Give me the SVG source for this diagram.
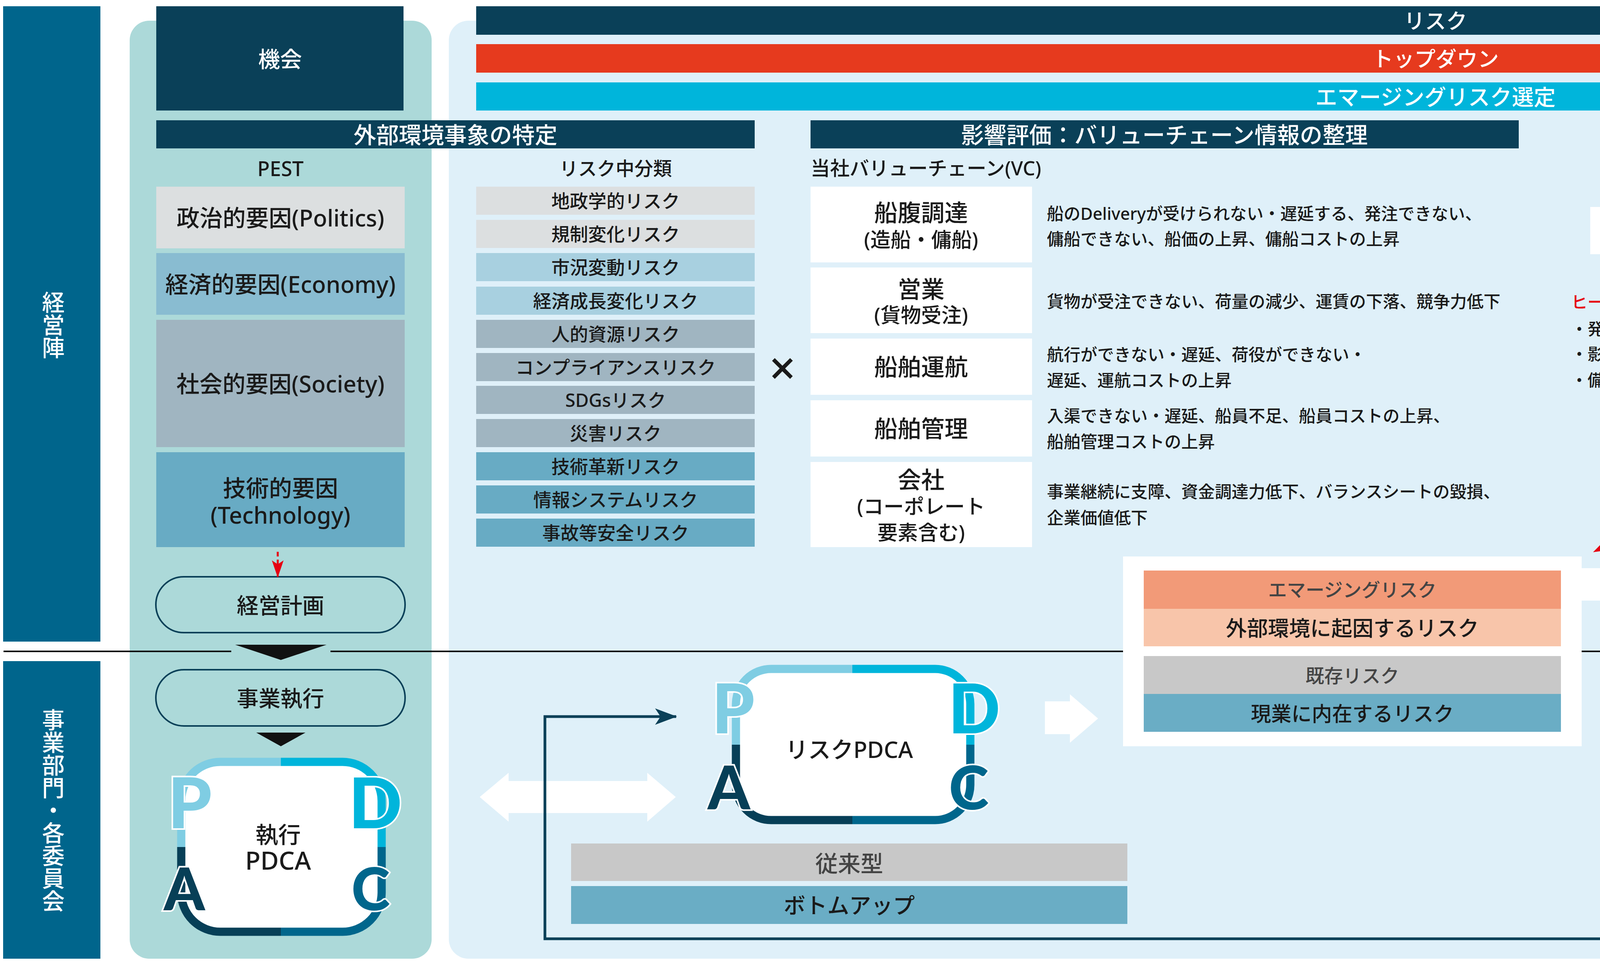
<svg xmlns="http://www.w3.org/2000/svg" width="6410" height="2507" viewBox="0 0 6410 2507">
<defs>
<style>
.jp{font-family:"Noto Sans","Noto Sans CJK JP",sans-serif;font-weight:500;}
.c{text-anchor:middle;dominant-baseline:central;}
.l{dominant-baseline:central;}
.w{fill:#fff;}
.k{fill:#1a1a1a;}
.vt{writing-mode:vertical-rl;text-anchor:middle;}
.pd{font-family:Lato,"Noto Sans",sans-serif;font-weight:900;stroke:#fff;stroke-width:8;paint-order:stroke;text-anchor:middle;}
.fr{fill:none;stroke-width:21;}
.p1{stroke:#7fcde3;}.p2{stroke:#00b5db;}.p3{stroke:#00668c;}.p4{stroke:#073f57;}
.f1{fill:#7fcde3;}.f2{fill:#00b5db;}.f3{fill:#00668c;}.f4{fill:#073f57;}
.dash{stroke:#333;stroke-width:2.5;stroke-dasharray:9 7;fill:none;}
.red{fill:#e60012;}
</style>
<marker id="ra" markerUnits="userSpaceOnUse" viewBox="0 0 44 30" refX="42" refY="15" markerWidth="44" markerHeight="30" orient="auto">
<path d="M0,0 L44,15 L0,30 L10,15 z" fill="#e60012"/>
</marker>
<marker id="na" markerUnits="userSpaceOnUse" viewBox="0 0 56 42" refX="54" refY="21" markerWidth="56" markerHeight="42" orient="auto">
<path d="M0,0 L56,21 L0,42 L14,21 z" fill="#0a4058"/>
</marker>
</defs>
<rect width="6410" height="2507" fill="#fff"/>

<g id="panels">
<rect x="332" y="53" width="773" height="2402" rx="50" fill="#acd9d9"/>
<rect x="1149" y="53" width="5087" height="2402" rx="50" fill="#dff0f9"/>
</g>

<g id="divider">
<line x1="9" y1="1668" x2="6236" y2="1668" stroke="#111" stroke-width="4"/>
<rect x="592" y="1660" width="254" height="16" fill="#acd9d9"/>
</g>

<g id="side-keiei">
<rect x="8" y="16" width="249" height="1627" fill="#00658c"/>
<text class="jp vt w" x="134" y="832" font-size="58">経営陣</text>
</g>
<g id="side-jigyo">
<rect x="8" y="1693" width="249" height="762" fill="#00658c"/>
<text class="jp vt w" x="134" y="2075" font-size="58">事業部門・各委員会</text>
</g>

<g id="kikai">
<rect x="400" y="16" width="633" height="267" fill="#0a4058"/>
<text class="jp c w" x="717" y="150" font-size="56">機会</text>
</g>

<g id="top-bars">
<rect x="1219" y="16" width="4912" height="73" fill="#0a4058"/>
<text class="jp c w" x="3675" y="53" font-size="54">リスク</text>
<rect x="1219" y="113" width="4912" height="73" fill="#e63a1e"/>
<text class="jp c w" x="3675" y="150" font-size="54">トップダウン</text>
<rect x="1219" y="211" width="4912" height="72" fill="#00b5db"/>
<text class="jp c w" x="3675" y="247" font-size="56">エマージングリスク選定</text>
</g>

<g id="headers">
<rect x="400" y="308" width="1532" height="72" fill="#0a4058"/>
<text class="jp c w" x="1166" y="344" font-size="58">外部環境事象の特定</text>
<rect x="2075" y="308" width="1813" height="72" fill="#0a4058"/>
<text class="jp c w" x="2981" y="344" font-size="58">影響評価：バリューチェーン情報の整理</text>
<rect x="4458" y="308" width="1673" height="72" fill="#0a4058"/>
<text class="jp c w" x="5294" y="344" font-size="58">リスク評価：重要リスクの選定</text>
</g>

<g id="pest">
<text class="jp c k" x="718" y="430" font-size="52">PEST</text>
<rect x="400" y="478" width="636" height="158" fill="#dcdfe0"/>
<text class="jp c k" x="718" y="557" font-size="59">政治的要因(Politics)</text>
<rect x="400" y="648" width="636" height="158" fill="#89bcd1"/>
<text class="jp c k" x="718" y="727" font-size="59">経済的要因(Economy)</text>
<rect x="400" y="819" width="636" height="326" fill="#a0b5c1"/>
<text class="jp c k" x="718" y="982" font-size="59">社会的要因(Society)</text>
<rect x="400" y="1158" width="636" height="243" fill="#68abc4"/>
<text class="jp c k" x="718" y="1249" font-size="59">技術的要因</text>
<text class="jp c k" x="718" y="1318" font-size="59">(Technology)</text>
</g>

<g id="risk-categories">
<text class="jp c k" x="1576" y="430" font-size="48">リスク中分類</text>
<rect x="1219" y="478" width="713" height="72" fill="#dcdfe0"/>
<text class="jp c k" x="1576" y="514" font-size="47">地政学的リスク</text>
<rect x="1219" y="563" width="713" height="72" fill="#dcdfe0"/>
<text class="jp c k" x="1576" y="599" font-size="47">規制変化リスク</text>
<rect x="1219" y="648" width="713" height="72" fill="#a8d0e0"/>
<text class="jp c k" x="1576" y="684" font-size="47">市況変動リスク</text>
<rect x="1219" y="734" width="713" height="72" fill="#a8d0e0"/>
<text class="jp c k" x="1576" y="770" font-size="47">経済成長変化リスク</text>
<rect x="1219" y="819" width="713" height="72" fill="#a0b5c1"/>
<text class="jp c k" x="1576" y="855" font-size="47">人的資源リスク</text>
<rect x="1219" y="904" width="713" height="72" fill="#a0b5c1"/>
<text class="jp c k" x="1576" y="940" font-size="47">コンプライアンスリスク</text>
<rect x="1219" y="988" width="713" height="72" fill="#a0b5c1"/>
<text class="jp c k" x="1576" y="1024" font-size="47">SDGsリスク</text>
<rect x="1219" y="1073" width="713" height="72" fill="#a0b5c1"/>
<text class="jp c k" x="1576" y="1109" font-size="47">災害リスク</text>
<rect x="1219" y="1158" width="713" height="72" fill="#68abc4"/>
<text class="jp c k" x="1576" y="1194" font-size="47">技術革新リスク</text>
<rect x="1219" y="1243" width="713" height="72" fill="#68abc4"/>
<text class="jp c k" x="1576" y="1279" font-size="47">情報システムリスク</text>
<rect x="1219" y="1328" width="713" height="72" fill="#68abc4"/>
<text class="jp c k" x="1576" y="1364" font-size="47">事故等安全リスク</text>
</g>

<g id="times">
<text class="jp c k" x="2003" y="939" font-size="120" font-weight="300">×</text>
</g>

<g id="value-chain">
<text class="jp l k" x="2075" y="430" font-size="50">当社バリューチェーン(VC)</text>
<rect x="2075" y="478" width="567" height="194" fill="#fff"/>
<text class="jp c k" x="2358" y="544" font-size="60">船腹調達</text>
<text class="jp c k" x="2358" y="612" font-size="52">(造船・傭船)</text>
<rect x="2075" y="685" width="567" height="168" fill="#fff"/>
<text class="jp c k" x="2358" y="740" font-size="60">営業</text>
<text class="jp c k" x="2358" y="805" font-size="52">(貨物受注)</text>
<rect x="2075" y="867" width="567" height="144" fill="#fff"/>
<text class="jp c k" x="2358" y="939" font-size="60">船舶運航</text>
<rect x="2075" y="1025" width="567" height="144" fill="#fff"/>
<text class="jp c k" x="2358" y="1097" font-size="60">船舶管理</text>
<rect x="2075" y="1183" width="567" height="218" fill="#fff"/>
<text class="jp c k" x="2358" y="1228" font-size="60">会社</text>
<text class="jp c k" x="2358" y="1295" font-size="52">(コーポレート</text>
<text class="jp c k" x="2358" y="1362" font-size="52">要素含む)</text>
<g font-size="43">
<text class="jp l k" x="2680" y="546">船のDeliveryが受けられない・遅延する、発注できない、</text>
<text class="jp l k" x="2680" y="611">傭船できない、船価の上昇、傭船コストの上昇</text>
<text class="jp l k" x="2680" y="771">貨物が受注できない、荷量の減少、運賃の下落、競争力低下</text>
<text class="jp l k" x="2680" y="907">航行ができない・遅延、荷役ができない・</text>
<text class="jp l k" x="2680" y="973">遅延、運航コストの上昇</text>
<text class="jp l k" x="2680" y="1064">入渠できない・遅延、船員不足、船員コストの上昇、</text>
<text class="jp l k" x="2680" y="1130">船舶管理コストの上昇</text>
<text class="jp l k" x="2680" y="1258">事業継続に支障、資金調達力低下、バランスシートの毀損、</text>
<text class="jp l k" x="2680" y="1325">企業価値低下</text>
</g>
</g>

<g id="heatmap-note">
<text class="jp l red" x="4022" y="772" font-size="42" font-weight="700">ヒートマップ化</text>
<text class="jp l k" x="4022" y="841" font-size="42">・発生可能性</text>
<text class="jp l k" x="4022" y="905" font-size="42">・影響度</text>
<text class="jp l k" x="4022" y="972" font-size="42">・備えの程度</text>
</g>

<g id="heatmap-chart">
<line x1="4817" y1="479" x2="4817" y2="1013" stroke="#111" stroke-width="4"/>
<line x1="4815" y1="1011" x2="6093" y2="1011" stroke="#111" stroke-width="4"/>
<path class="dash" d="M4817,657 H5308 M6026,657 H6093 M4817,833 H6093 M5241,478 V1011 M5666,478 V574 M5666,749 V1011"/>
<text class="jp c k" x="4755" y="569" font-size="44" font-weight="400">高</text>
<text class="jp c k" x="4755" y="743" font-size="44" font-weight="400">中</text>
<text class="jp c k" x="4755" y="923" font-size="44" font-weight="400">低</text>
<text class="jp c k" x="5028" y="1055" font-size="44" font-weight="400">高</text>
<text class="jp c k" x="5450" y="1055" font-size="44" font-weight="400">中</text>
<text class="jp c k" x="5879" y="1055" font-size="44" font-weight="400">低</text>
<text class="jp c k" x="5480" y="1133" font-size="46" font-weight="400"><tspan font-weight="700">備えの程度</tspan>(Management Preparedness)</text>
<text class="jp k" transform="translate(4607,784) rotate(90)" text-anchor="middle" font-size="58" textLength="350" lengthAdjust="spacingAndGlyphs">Risk Exposure</text>
<text class="jp vt k" x="4562" y="781" font-size="46" font-weight="400">(影響度×発生可能性)</text>
<rect x="5207" y="438" width="922" height="420" rx="55" fill="none" stroke="#e60012" stroke-width="4"/>
<text class="jp c red" x="5668" y="625" font-size="44">右上に位置するものが</text>
<text class="jp c red" x="5668" y="689" font-size="44">リスクの程度が高い</text>
</g>

<g id="bubble">
<path d="M4618,1190 H5964 Q5992,1190 5992,1218 V1357 Q5992,1385 5964,1385 H4618 Q4590,1385 4590,1357 V1248 L4546,1217 L4592,1200 Q4598,1190 4618,1190 z" fill="#fff"/>
<text class="jp l red" x="4616" y="1254" font-size="44">・専門家による分析</text>
<text class="jp l red" x="4616" y="1319" font-size="44">・グローバルリスクレポート等の調査レポート</text>
</g>

<g id="keiei-keikaku">
<rect x="399" y="1477" width="638" height="143" rx="71.5" fill="none" stroke="#0a4058" stroke-width="4"/>
<text class="jp c k" x="718" y="1549" font-size="56">経営計画</text>
</g>
<g id="jigyo-shikko">
<rect x="399" y="1715" width="638" height="144" rx="72" fill="none" stroke="#0a4058" stroke-width="4"/>
<text class="jp c k" x="718" y="1787" font-size="56">事業執行</text>
</g>

<g id="shikko-pdca">
<rect x="464" y="1951" width="513" height="435" rx="100" fill="#fff"/>
<path class="fr p1" d="M719,1951 H564 A100,100 0 0 0 464,2051 V2169"/>
<path class="fr p2" d="M719,1951 H877 A100,100 0 0 1 977,2051 V2169"/>
<path class="fr p3" d="M977,2169 V2286 A100,100 0 0 1 877,2386 H719"/>
<path class="fr p4" d="M464,2169 V2286 A100,100 0 0 0 564,2386 H719"/>
<text class="pd f1" x="486" y="2121" font-size="180">P</text>
<text class="pd f2" x="961" y="2121" font-size="180">D</text>
<text class="pd f4" x="472" y="2331" font-size="150">A</text>
<text class="pd f3" x="949" y="2331" font-size="150">C</text>
<text class="jp c k" x="712" y="2136" font-size="58">執行</text>
<text class="jp c k" x="712" y="2202" font-size="64" font-weight="400">PDCA</text>
</g>

<g id="risk-pdca">
<rect x="1884" y="1713" width="600" height="387" rx="90" fill="#fff"/>
<path class="fr p1" d="M2182,1713 H1974 A90,90 0 0 0 1884,1803 V1907"/>
<path class="fr p2" d="M2182,1713 H2394 A90,90 0 0 1 2484,1803 V1907"/>
<path class="fr p3" d="M2484,1907 V2010 A90,90 0 0 1 2394,2100 H2182"/>
<path class="fr p4" d="M1884,1907 V2010 A90,90 0 0 0 1974,2100 H2182"/>
<text class="pd f1" x="1877" y="1878" font-size="175">P</text>
<text class="pd f2" x="2494" y="1878" font-size="175">D</text>
<text class="pd f4" x="1866" y="2073" font-size="155">A</text>
<text class="pd f3" x="2480" y="2073" font-size="155">C</text>
<text class="jp c k" x="2174" y="1918" font-size="58" font-weight="400">リスクPDCA</text>
</g>

<g id="conventional">
<rect x="1462" y="2160" width="1424" height="96" fill="#c8c8c8"/>
<text class="jp c" x="2174" y="2210" font-size="58" fill="#444">従来型</text>
<rect x="1462" y="2269" width="1424" height="97" fill="#6aadc5"/>
<text class="jp c k" x="2174" y="2317" font-size="56">ボトムアップ</text>
</g>

<g id="risk-types">
<rect x="2875" y="1425" width="1174" height="486" fill="#fff"/>
<rect x="2928" y="1461" width="1068" height="98" fill="#f29a78"/>
<text class="jp c" x="3462" y="1509" font-size="48" fill="#444">エマージングリスク</text>
<rect x="2928" y="1559" width="1068" height="96" fill="#f8c5aa"/>
<text class="jp c k" x="3462" y="1608" font-size="54">外部環境に起因するリスク</text>
<rect x="2928" y="1680" width="1068" height="97" fill="#c8c8c8"/>
<text class="jp c" x="3462" y="1729" font-size="48" fill="#444">既存リスク</text>
<rect x="2928" y="1777" width="1068" height="97" fill="#6aadc5"/>
<text class="jp c k" x="3462" y="1826" font-size="52">現業に内在するリスク</text>
</g>

<g id="juyo-kadai">
<rect x="4277" y="1422" width="824" height="146" fill="#dff0f9" stroke="#e63a1e" stroke-width="6"/>
<text class="jp c" x="4689" y="1496" font-size="66" font-weight="700" fill="#e63a1e">重要課題選定</text>
</g>

<g id="main-pdca">
<rect x="4181" y="1598" width="1873" height="754" rx="100" fill="#fff"/>
<path class="fr p1" d="M5116,1598 H4281 A100,100 0 0 0 4181,1698 V1931"/>
<path class="fr p2" d="M5116,1598 H5954 A100,100 0 0 1 6054,1698 V1931"/>
<path class="fr p3" d="M6054,1931 V2252 A100,100 0 0 1 5954,2352 H5116"/>
<path class="fr p4" d="M4181,1931 V2252 A100,100 0 0 0 4281,2352 H5116"/>
<path class="dash" d="M4268,1984 H5966 M5117,1677 V2291"/>
<g font-size="43" font-weight="400">
<text class="jp l k" y="1698"><tspan x="4366" font-size="24">●</tspan><tspan x="4404">リスクの洗い出し・再評価</tspan></text>
<text class="jp l k" y="1756"><tspan x="4366" font-size="24">●</tspan><tspan x="4404">重点課題の特定</tspan></text>
<text class="jp l k" y="1812"><tspan x="4366" font-size="24">●</tspan><tspan x="4404">社内情宣</tspan></text>
<text class="jp l k" y="1698"><tspan x="5178" font-size="24">●</tspan><tspan x="5216">リスク対策の実施</tspan></text>
<text class="jp l k" y="1756"><tspan x="5178" font-size="24">●</tspan><tspan x="5216">重点課題への対応</tspan></text>
<text class="jp l k" y="1812"><tspan x="5178" font-size="24">●</tspan><tspan x="5216">情報管理・モニタリング</tspan></text>
<text class="jp l k" y="2069"><tspan x="4366" font-size="24">●</tspan><tspan x="4404">予防・対応策の実施</tspan></text>
<text class="jp l k" y="2069"><tspan x="5178" font-size="24">●</tspan><tspan x="5216">リスクの評価／原因分析</tspan></text>
<text class="jp l k" y="2123"><tspan x="5178" font-size="24">●</tspan><tspan x="5216">マネジメントプロセスのレビュー</tspan></text>
<text class="jp l k" y="2179"><tspan x="5178" font-size="24">●</tspan><tspan x="5216">予防・対応策(低減／移転／回避／</tspan></text>
<text class="jp l k" x="5216" y="2236">保有)の検討</text>
</g>
<text class="pd f1" x="4190" y="1833" font-size="195">P</text>
<text class="pd f2" x="6031" y="1831" font-size="190">D</text>
<text class="pd f4" x="4177" y="2162" font-size="175">A</text>
<text class="pd f3" x="6032" y="2163" font-size="180">C</text>
<g font-size="44" stroke="#fff" stroke-width="6" style="paint-order:stroke">
<text class="jp c f1" x="4197" y="1881">(期初)</text>
<text class="jp c f4" x="4180" y="2210">(期末)</text>
<text class="jp c f2" x="6018" y="1871">(期中)</text>
<text class="jp c f3" x="6094" y="2210">(年2回以上)</text>
</g>
<polygon points="4629,1566 4750,1566 4750,1588 4781,1588 4689,1636 4599,1588 4629,1588" fill="#e63a1e"/>
</g>

<g id="connectors">
<polygon points="4071,530 4166,530 4166,503 4270,592 4166,683 4166,651 4071,651" fill="#fff"/>
<polygon points="1228,2041 1302,1979 1302,2000 1657,2000 1657,1979 1730,2041 1657,2104 1657,2082 1302,2082 1302,2104" fill="#fff"/>
<polygon points="2675,1796 2739,1796 2739,1778 2811,1840 2739,1902 2739,1880 2675,1880" fill="#fff"/>
<polygon points="4049,1455 4192,1455 4192,1433 4264,1496 4192,1558 4192,1538 4049,1538" fill="#fff"/>
<polygon points="602,1651 836,1651 719,1690" fill="#111"/>
<polygon points="656,1876 782,1876 719,1911" fill="#111"/>
<line x1="711" y1="1413" x2="711" y2="1477" stroke="#e60012" stroke-width="5" stroke-dasharray="12 8" marker-end="url(#ra)"/>
<line x1="5219" y1="846" x2="4080" y2="1413" stroke="#e60012" stroke-width="5" stroke-dasharray="16 10" marker-end="url(#ra)"/>
<path d="M4656,2362 V2404 H1395 V1835 H1731" fill="none" stroke="#0a4058" stroke-width="7" marker-end="url(#na)"/>
</g>
</svg>
